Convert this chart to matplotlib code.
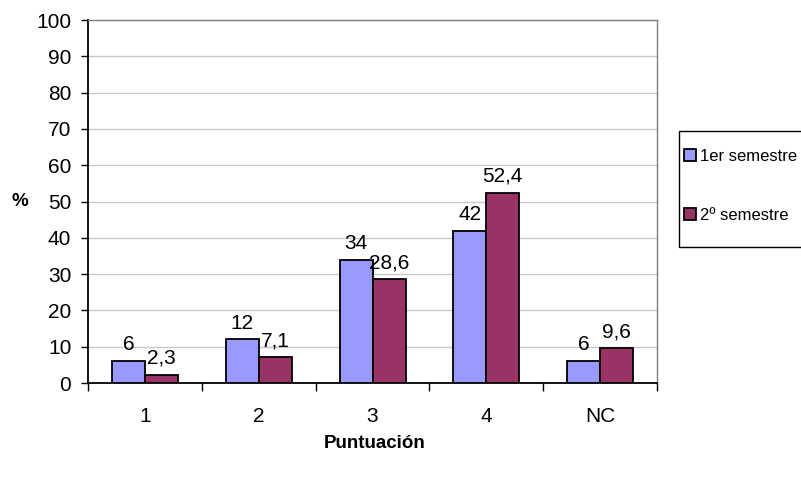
import matplotlib.pyplot as plt
import numpy as np
from matplotlib.patches import Rectangle

# ================= DATOS =================
categorias = ["1", "2", "3", "4", "NC"]
sem1 = [6, 12, 34, 42, 6]
sem2 = [2.3, 7.1, 28.6, 52.4, 9.6]
series_nombres = ["1er semestre", "2º semestre"]

azul = "#9999FF"
granate = "#993366"

plt.rcParams["font.family"] = ["Liberation Sans", "DejaVu Sans"]

fig = plt.figure(figsize=(8.01, 4.79), dpi=100)
ax = fig.add_axes([0.1099, 0.2004, 0.7103, 0.7578])

x = np.arange(len(categorias))
w = 0.29

b1 = ax.bar(x - w / 2, sem1, w, color=azul, edgecolor="black", linewidth=1.3,
            label=series_nombres[0], zorder=3)
b2 = ax.bar(x + w / 2, sem2, w, color=granate, edgecolor="black", linewidth=1.3,
            label=series_nombres[1], zorder=3)

def fmt(v):
    s = f"{v:g}"
    return s.replace(".", ",")

for barras, vals in [(b1, sem1), (b2, sem2)]:
    for rect, v in zip(barras, vals):
        ax.annotate(fmt(v), (rect.get_x() + rect.get_width() / 2, v),
                    xytext=(0, 5), textcoords="offset points",
                    ha="center", va="bottom", fontsize=15)

# ejes
ax.set_xlim(-0.5, len(categorias) - 0.5)
ax.set_ylim(0, 100)
ax.set_yticks(np.arange(0, 101, 10))
ax.set_xticks(np.arange(-0.5, len(categorias), 1))
ax.set_xticklabels([])
ax.set_xticks(x, minor=True)
ax.set_xticklabels(categorias, minor=True)
ax.tick_params(axis="x", which="minor", length=0, pad=17, labelsize=15)
ax.tick_params(axis="x", which="major", length=6, direction="out", width=1)
ax.tick_params(axis="y", length=5, direction="out", width=1, labelsize=15, pad=7)

ax.yaxis.grid(True, color="#C8C8C8", linewidth=1, zorder=0)
ax.set_axisbelow(True)

for lado in ["top", "right"]:
    ax.spines[lado].set_color("#808080")
    ax.spines[lado].set_linewidth(1)
for lado in ["left", "bottom"]:
    ax.spines[lado].set_color("black")
    ax.spines[lado].set_linewidth(1.3)

fig.text(20 / 801, 1 - 201 / 479, "%", fontsize=13.5, fontweight="bold",
         ha="center", va="center")
fig.text(375 / 801, 1 - 443 / 479, "Puntuación", fontsize=13.5, fontweight="bold",
         ha="center", va="center")

# caja de la leyenda
fig.patches.append(Rectangle((679 / 801, 1 - 247 / 479), 130 / 801, 116 / 479,
                             transform=fig.transFigure, facecolor="white",
                             edgecolor="black", linewidth=1))

leg = fig.legend(loc="upper left", bbox_to_anchor=(684 / 801, 1 - 149 / 479),
                 frameon=False,
                 handlelength=0.7, handleheight=0.7, handletextpad=0.25,
                 labelspacing=2.65, borderpad=0, borderaxespad=0,
                 prop={"size": 12})
for h in leg.legend_handles:
    h.set_linewidth(1.3)

fig.savefig("out.png", dpi=100)
